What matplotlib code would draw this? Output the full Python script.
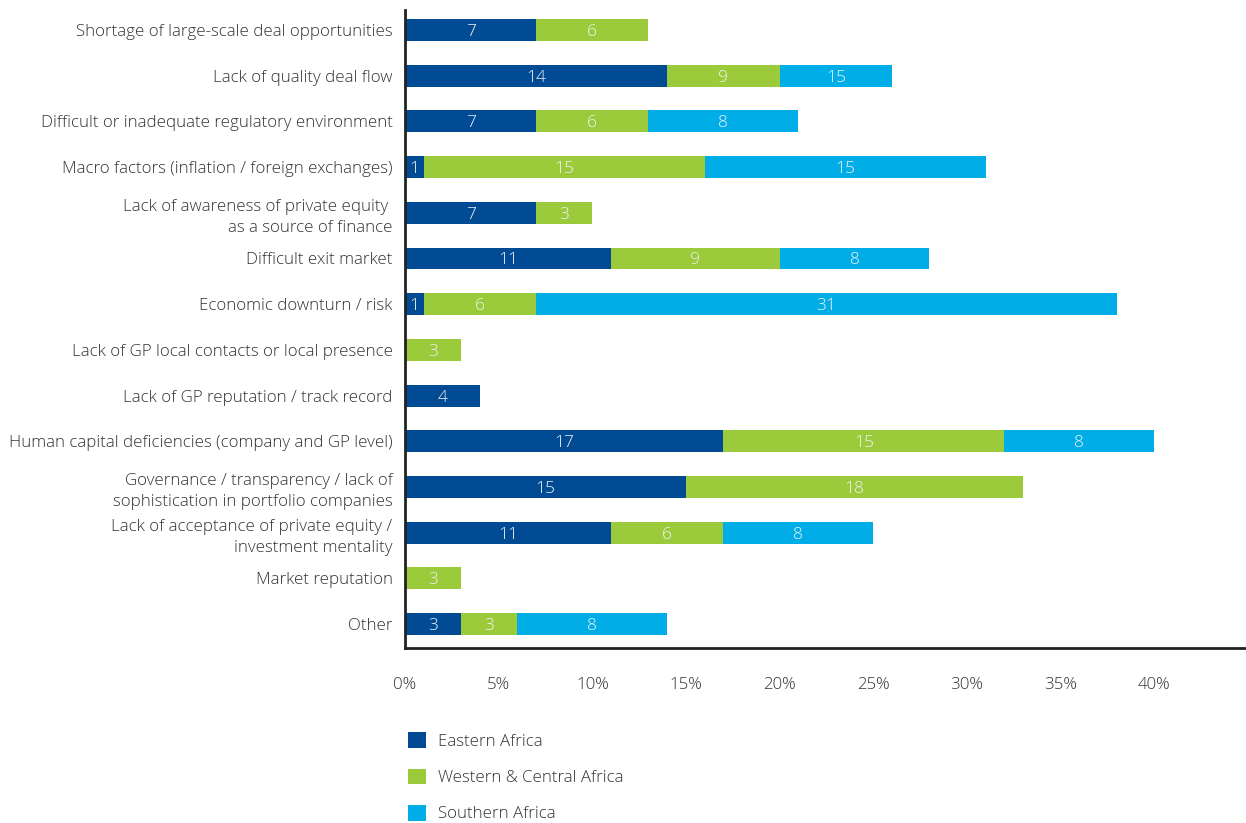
import matplotlib
matplotlib.use("Agg")
import matplotlib.pyplot as plt
from matplotlib.patches import Patch
import numpy as np

categories = [
    "Shortage of large-scale deal opportunities",
    "Lack of quality deal flow",
    "Difficult or inadequate regulatory environment",
    "Macro factors (inflation / foreign exchanges)",
    "Lack of awareness of private equity \nas a source of finance",
    "Difficult exit market",
    "Economic downturn / risk",
    "Lack of GP local contacts or local presence",
    "Lack of GP reputation / track record",
    "Human capital deficiencies (company and GP level)",
    "Governance / transparency / lack of\nsophistication in portfolio companies",
    "Lack of acceptance of private equity /\ninvestment mentality",
    "Market reputation",
    "Other",
]
# bar lengths as drawn in the chart (% of respondents)
eastern = [7, 14, 7, 1, 7, 11, 1, 0, 4, 17, 15, 11, 0, 3]
western = [6, 6, 6, 15, 3, 9, 6, 3, 0, 15, 18, 6, 3, 3]
southern = [0, 6, 8, 15, 0, 8, 31, 0, 0, 8, 0, 8, 0, 8]
# value labels printed on the bars (as shown in the chart)
eastern_labels = [7, 14, 7, 1, 7, 11, 1, 0, 4, 17, 15, 11, 0, 3]
western_labels = [6, 9, 6, 15, 3, 9, 6, 3, 0, 15, 18, 6, 3, 3]
southern_labels = [0, 15, 8, 15, 0, 8, 31, 0, 0, 8, 0, 8, 0, 8]
series_names = ["Eastern Africa", "Western & Central Africa", "Southern Africa"]
colors = ["#004B93", "#9BCB3B", "#00ADE6"]
xticks = [0, 5, 10, 15, 20, 25, 30, 35, 40]

FS = 12.2
plt.rcParams['font.family'] = ['Open Sans', 'DejaVu Sans']
fig = plt.figure(figsize=(12.46, 8.23), dpi=100)
ax = fig.add_axes([405/1246, 1-648/823, 1-405/1246, (648-10)/823])

y = np.arange(len(categories))
left = np.zeros(len(categories))
for vals, labs, c, name in zip([eastern, western, southern],
                               [eastern_labels, western_labels, southern_labels],
                               colors, series_names):
    vals = np.array(vals, dtype=float)
    ax.barh(y, vals, left=left, height=0.48, color=c, label=name)
    for yi, (l, v, lab) in enumerate(zip(left, vals, labs)):
        if v > 0:
            ax.text(l + v / 2, yi, f"{lab}", ha='center', va='center_baseline',
                    color='#eef2f7', fontsize=12.5, fontweight='light')
    left += vals

ax.set_xlim(0, (1246 - 405) / 18.73)
ax.set_ylim(len(categories) - 1 + 0.525, -0.438)
ax.set_yticks(y)
ax.set_yticklabels(categories, fontsize=FS, color='#333333', linespacing=1.45,
                   fontweight='light')
ax.set_xticks(xticks)
ax.set_xticklabels([f"{t}%" for t in xticks], fontsize=FS, color='#333333',
                   fontweight='light')
ax.tick_params(axis='both', length=0)
ax.tick_params(axis='x', pad=21)
ax.tick_params(axis='y', pad=9)
for s in ['top', 'right']:
    ax.spines[s].set_visible(False)
for s in ['left', 'bottom']:
    ax.spines[s].set_color('#222222')
    ax.spines[s].set_linewidth(2)

handles = [Patch(facecolor=c, edgecolor='none') for c in colors]
leg = fig.legend(handles, series_names, loc='upper left',
                 bbox_to_anchor=(393/1246, 1-717/823), frameon=False,
                 fontsize=FS, handlelength=1.05, handleheight=1.05,
                 labelspacing=1.1, handletextpad=0.7, labelcolor='#333333')
for t in leg.get_texts():
    t.set_fontweight('light')

fig.savefig("out.png", dpi=100)
